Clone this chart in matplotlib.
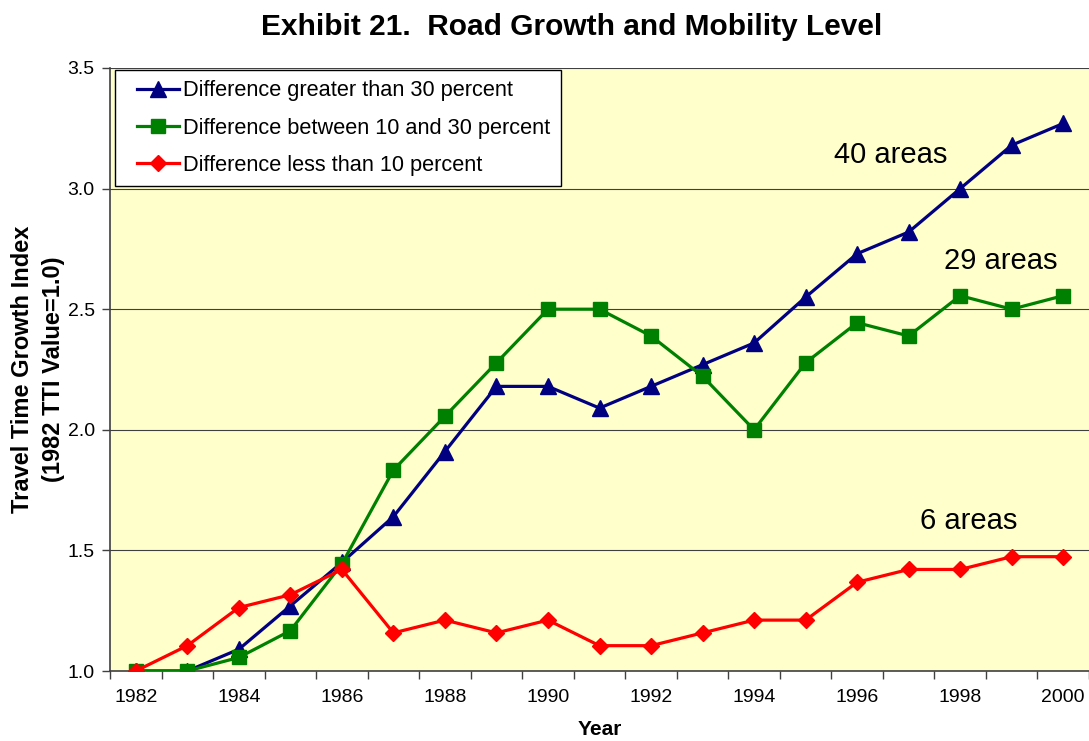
import matplotlib.pyplot as plt
from matplotlib.ticker import FixedLocator, NullFormatter
from matplotlib.legend_handler import HandlerLine2D

plt.rcParams['font.family'] = ['Liberation Sans', 'DejaVu Sans']

# 数据
years = list(range(1982, 2001))
greater_30 = [1.0, 1.0, 1.09, 1.27, 1.45, 1.64, 1.91, 2.18, 2.18, 2.09,
              2.18, 2.27, 2.36, 2.55, 2.73, 2.82, 3.0, 3.18, 3.27]
between_10_30 = [1.0, 1.0, 1.056, 1.167, 1.444, 1.833, 2.056, 2.278, 2.5, 2.5,
                 2.389, 2.222, 2.0, 2.278, 2.444, 2.389, 2.556, 2.5, 2.556]
less_10 = [1.0, 1.105, 1.263, 1.316, 1.421, 1.158, 1.211, 1.158, 1.211, 1.105,
           1.105, 1.158, 1.211, 1.211, 1.368, 1.421, 1.421, 1.474, 1.474]
series_labels = ['Difference greater than 30 percent',
                 'Difference between 10 and 30 percent',
                 'Difference less than 10 percent']
area_labels = ['40 areas', '29 areas', '6 areas']
y_ticks = [1.0, 1.5, 2.0, 2.5, 3.0, 3.5]

fig = plt.figure(figsize=(10.89, 7.41), dpi=100)
ax = fig.add_axes([110 / 1089, 1 - 671 / 741, 979 / 1089, 603 / 741])
ax.set_facecolor('#FFFFCC')

x = list(range(len(years)))
ax.plot(x, greater_30, color='#000080', lw=2.3, marker='^', ms=11,
        label=series_labels[0], zorder=3)
ax.plot(x, between_10_30, color='#008000', lw=2.3, marker='s', ms=10,
        label=series_labels[1], zorder=3)
ax.plot(x, less_10, color='#FF0000', lw=2.3, marker='D', ms=8.5,
        label=series_labels[2], zorder=3)

# 轴设置：类别轴，刻度线在类别之间
ax.set_xlim(-0.5, len(years) - 0.5)
ax.set_ylim(1.0, 3.5)
ax.xaxis.set_major_locator(FixedLocator([i - 0.5 for i in range(len(years) + 1)]))
ax.xaxis.set_major_formatter(NullFormatter())
ax.xaxis.set_minor_locator(FixedLocator(x[::2]))
ax.set_xticklabels([str(y) for y in years[::2]], minor=True)
ax.tick_params(axis='x', which='major', length=6, width=1, color='#404040', direction='out')
ax.tick_params(axis='x', which='minor', length=0, labelsize=14, pad=13)
ax.set_yticks(y_ticks)
ax.set_yticklabels(['%.1f' % v for v in y_ticks])
ax.tick_params(axis='y', length=6, width=1, color='#404040', labelsize=14, pad=5)

ax.grid(axis='y', color='#404040', lw=0.8)
ax.set_axisbelow(True)
for side in ['top', 'right']:
    ax.spines[side].set_visible(False)
for side in ['left', 'bottom']:
    ax.spines[side].set_color('#404040')
    ax.spines[side].set_linewidth(1.2)

ax.set_xlabel('Year', fontsize=15, fontweight='bold', labelpad=10)
ax.set_ylabel('Travel Time Growth Index\n(1982 TTI Value=1.0)', fontsize=17,
              fontweight='bold', labelpad=2, linespacing=1.45)

# 区域数量标注
ax.text(14.65, 3.14, area_labels[0], fontsize=21, ha='center', va='center')
ax.text(16.78, 2.70, area_labels[1], fontsize=21, ha='center', va='center')
ax.text(16.16, 1.62, area_labels[2], fontsize=21, ha='center', va='center')

fig.suptitle('Exhibit 21.  Road Growth and Mobility Level', x=572 / 1089,
             y=1 - 27 / 741, va='center', fontsize=21.5, fontweight='bold')

leg = ax.legend(loc='upper left', bbox_to_anchor=(115 / 1089, 1 - 70 / 741),
                bbox_transform=fig.transFigure, fontsize=15.7, frameon=True,
                fancybox=False, edgecolor='black', framealpha=1,
                borderaxespad=0, handlelength=2.45, handletextpad=0.2,
                labelspacing=0.75, borderpad=0.47,
                handler_map={plt.Line2D: HandlerLine2D(xpad=0.55)})
leg.get_frame().set_linewidth(1.0)

plt.savefig('out.png', dpi=100)
plt.close()
